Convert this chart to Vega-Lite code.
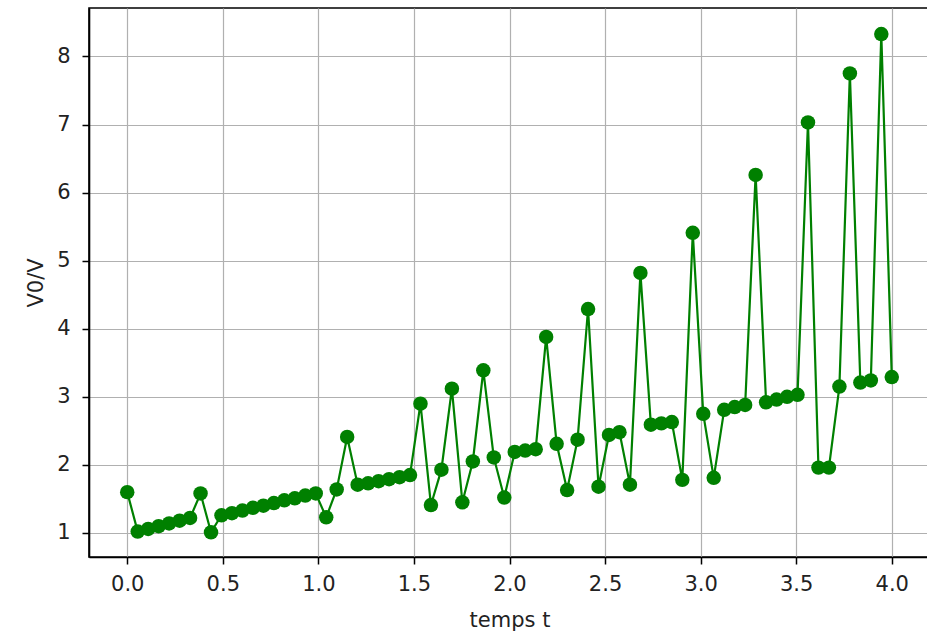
{
  "$schema": "https://vega.github.io/schema/vega-lite/v6.json",
  "autosize": "none",
  "padding": {"left": 89, "top": 8, "right": 0, "bottom": 79},
  "width": 841,
  "height": 549,
  "background": "white",
  "config": {
    "font": "DejaVu Sans",
    "view": {"stroke": "black", "strokeWidth": 1.6},
    "axis": {
      "domainColor": "black",
      "domainWidth": 1.6,
      "tickColor": "black",
      "tickWidth": 1.5,
      "tickSize": 7,
      "gridColor": "#b0b0b0",
      "gridWidth": 1.2,
      "gridOpacity": 1,
      "labelFont": "DejaVu Sans",
      "labelFontSize": 21,
      "labelColor": "#222222",
      "titleFont": "DejaVu Sans",
      "titleFontSize": 21,
      "titleFontWeight": "normal",
      "titleColor": "#222222"
    }
  },
  "data": {
    "values": [
      {"t": 0, "v": 1.60},
      {"t": 0.0548, "v": 1.02},
      {"t": 0.1096, "v": 1.06},
      {"t": 0.1644, "v": 1.10},
      {"t": 0.2192, "v": 1.14},
      {"t": 0.2740, "v": 1.18},
      {"t": 0.3288, "v": 1.22},
      {"t": 0.3836, "v": 1.58},
      {"t": 0.4384, "v": 1.01},
      {"t": 0.4932, "v": 1.26},
      {"t": 0.5479, "v": 1.29},
      {"t": 0.6027, "v": 1.33},
      {"t": 0.6575, "v": 1.37},
      {"t": 0.7123, "v": 1.40},
      {"t": 0.7671, "v": 1.44},
      {"t": 0.8219, "v": 1.48},
      {"t": 0.8767, "v": 1.51},
      {"t": 0.9315, "v": 1.55},
      {"t": 0.9863, "v": 1.58},
      {"t": 1.0411, "v": 1.23},
      {"t": 1.0959, "v": 1.64},
      {"t": 1.1507, "v": 2.41},
      {"t": 1.2055, "v": 1.71},
      {"t": 1.2603, "v": 1.73},
      {"t": 1.3151, "v": 1.76},
      {"t": 1.3699, "v": 1.79},
      {"t": 1.4247, "v": 1.82},
      {"t": 1.4795, "v": 1.85},
      {"t": 1.5342, "v": 2.90},
      {"t": 1.5890, "v": 1.41},
      {"t": 1.6438, "v": 1.93},
      {"t": 1.6986, "v": 3.12},
      {"t": 1.7534, "v": 1.45},
      {"t": 1.8082, "v": 2.05},
      {"t": 1.8630, "v": 3.39},
      {"t": 1.9178, "v": 2.11},
      {"t": 1.9726, "v": 1.52},
      {"t": 2.0274, "v": 2.19},
      {"t": 2.0822, "v": 2.21},
      {"t": 2.1370, "v": 2.23},
      {"t": 2.1918, "v": 3.88},
      {"t": 2.2466, "v": 2.31},
      {"t": 2.3014, "v": 1.63},
      {"t": 2.3562, "v": 2.37},
      {"t": 2.4110, "v": 4.29},
      {"t": 2.4658, "v": 1.68},
      {"t": 2.5205, "v": 2.44},
      {"t": 2.5753, "v": 2.48},
      {"t": 2.6301, "v": 1.71},
      {"t": 2.6849, "v": 4.82},
      {"t": 2.7397, "v": 2.59},
      {"t": 2.7945, "v": 2.61},
      {"t": 2.8493, "v": 2.63},
      {"t": 2.9041, "v": 1.78},
      {"t": 2.9589, "v": 5.41},
      {"t": 3.0137, "v": 2.75},
      {"t": 3.0685, "v": 1.81},
      {"t": 3.1233, "v": 2.81},
      {"t": 3.1781, "v": 2.85},
      {"t": 3.2329, "v": 2.88},
      {"t": 3.2877, "v": 6.26},
      {"t": 3.3425, "v": 2.92},
      {"t": 3.3973, "v": 2.96},
      {"t": 3.4521, "v": 3.00},
      {"t": 3.5068, "v": 3.03},
      {"t": 3.5616, "v": 7.03},
      {"t": 3.6164, "v": 1.96},
      {"t": 3.6712, "v": 1.96},
      {"t": 3.7260, "v": 3.15},
      {"t": 3.7808, "v": 7.75},
      {"t": 3.8356, "v": 3.21},
      {"t": 3.8904, "v": 3.24},
      {"t": 3.9452, "v": 8.33},
      {"t": 4.0, "v": 3.29}
    ]
  },
  "mark": {
    "type": "line",
    "color": "#008000",
    "strokeWidth": 2.2,
    "point": {"filled": true, "size": 210, "color": "#008000", "opacity": 1}
  },
  "encoding": {
    "x": {
      "field": "t",
      "type": "quantitative",
      "title": "temps t",
      "scale": {"domain": [-0.2, 4.2], "nice": false, "zero": false},
      "axis": {
        "values": [0, 0.5, 1, 1.5, 2, 2.5, 3, 3.5, 4],
        "format": ".1f",
        "labelPadding": 9,
        "titlePadding": 15,
        "labelFlush": false
      }
    },
    "y": {
      "field": "v",
      "type": "quantitative",
      "title": "V0/V",
      "scale": {"domain": [0.647, 8.712], "nice": false, "zero": false},
      "axis": {
        "values": [1, 2, 3, 4, 5, 6, 7, 8],
        "format": "d",
        "labelPadding": 12,
        "titlePadding": 10,
        "labelFlush": false
      }
    }
  }
}
